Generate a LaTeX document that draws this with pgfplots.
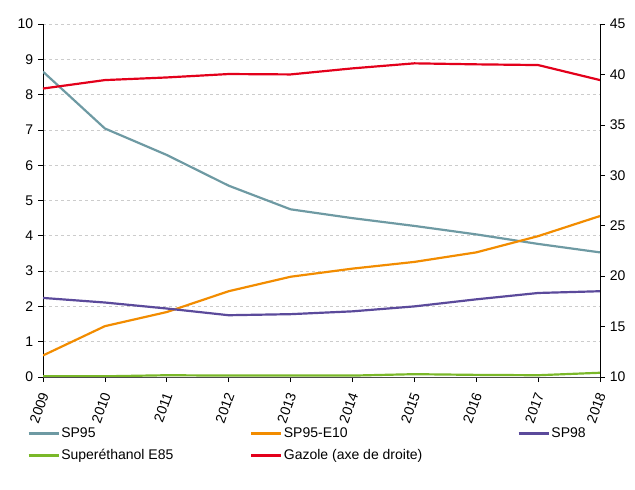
\documentclass[border=0pt]{standalone}
\usepackage{pgfplots}
\pgfplotsset{compat=1.18}
\usepackage{fontspec}
\setmainfont{Liberation Sans}
\definecolor{cSP}{HTML}{6E9AA3}
\definecolor{cE10}{HTML}{F28C00}
\definecolor{cSP98}{HTML}{5B4A9B}
\definecolor{cE85}{HTML}{7AB829}
\definecolor{cGaz}{HTML}{E3001B}
\begin{document}
\fontsize{14bp}{17bp}\selectfont
\begin{tikzpicture}
\useasboundingbox (-43bp,-113bp) rectangle (592bp,377bp);
\pgfplotsset{
  every axis/.append style={
    scale only axis, width=557bp, height=353bp,
    at={(0,0)}, anchor=south west,
    xmin=2009, xmax=2018,
    tick align=outside, major tick length=5bp,
    /pgf/number format/assume math mode=true,
    tick label style={font=\fontsize{14bp}{17bp}\selectfont},
    every tick/.style={black, line width=0.6pt},
  },
}
\begin{axis}[
  axis x line*=bottom, axis y line*=left,
  ymin=0, ymax=10, ytick={0,1,...,10},
  xtick={2009,...,2018},
  xticklabel style={yshift=-10bp, xshift=2bp, rotate=70, anchor=east, /pgf/number format/1000 sep=, inner sep=1bp},
  ymajorgrids, major grid style={dashed, gray!40, line width=0.6pt},
  x axis line style={-, black!70, line width=0.8pt},
  y axis line style={-, black, line width=0.8pt},
]
\addplot[cSP, line width=2.2pt] coordinates {(2009,8.65) (2010,7.04) (2011,6.29) (2012,5.42) (2013,4.75) (2014,4.50) (2015,4.28) (2016,4.04) (2017,3.77) (2018,3.53)};
\addplot[cE10, line width=2.2pt] coordinates {(2009,0.61) (2010,1.44) (2011,1.84) (2012,2.43) (2013,2.84) (2014,3.07) (2015,3.26) (2016,3.53) (2017,3.99) (2018,4.56)};
\addplot[cSP98, line width=2.2pt] coordinates {(2009,2.24) (2010,2.11) (2011,1.94) (2012,1.75) (2013,1.78) (2014,1.86) (2015,2.00) (2016,2.20) (2017,2.38) (2018,2.43)};
\addplot[cE85, line width=2.2pt] coordinates {(2009,0.02) (2010,0.02) (2011,0.05) (2012,0.04) (2013,0.04) (2014,0.04) (2015,0.08) (2016,0.06) (2017,0.05) (2018,0.12)};
\end{axis}
\begin{axis}[
  axis x line=none, axis y line*=right,
  ymin=10, ymax=45, ytick={10,15,...,45},
  y axis line style={-, black, line width=0.8pt},
  legend columns=3,
  legend cell align=left,
  legend style={at={(-0.0287,-0.138)}, anchor=north west, draw=none, fill=none, inner sep=0pt,
    font=\fontsize{14bp}{17bp}\selectfont,
    nodes={inner sep=1.5bp}, row sep=7bp},
  legend image code/.code={\draw[#1] (0bp,0bp) -- (30bp,0bp);},
]
\addlegendimage{cSP, line width=2.6pt}
\addlegendentry{\makebox[187bp][l]{SP95}}
\addlegendimage{cE10, line width=2.6pt}
\addlegendentry{\makebox[232bp][l]{SP95-E10}}
\addlegendimage{cSP98, line width=2.6pt}
\addlegendentry{SP98}
\addlegendimage{cE85, line width=2.6pt}
\addlegendentry{\makebox[187bp][l]{Superéthanol E85}}
\addlegendimage{cGaz, line width=2.6pt}
\addlegendentry{\makebox[232bp][l]{Gazole (axe de droite)}}
\addplot[cGaz, line width=2.2pt, forget plot] coordinates {(2009,38.6) (2010,39.44) (2011,39.7) (2012,40.04) (2013,40.0) (2014,40.6) (2015,41.1) (2016,41.0) (2017,40.93) (2018,39.44)};
\end{axis}
\end{tikzpicture}
\end{document}
